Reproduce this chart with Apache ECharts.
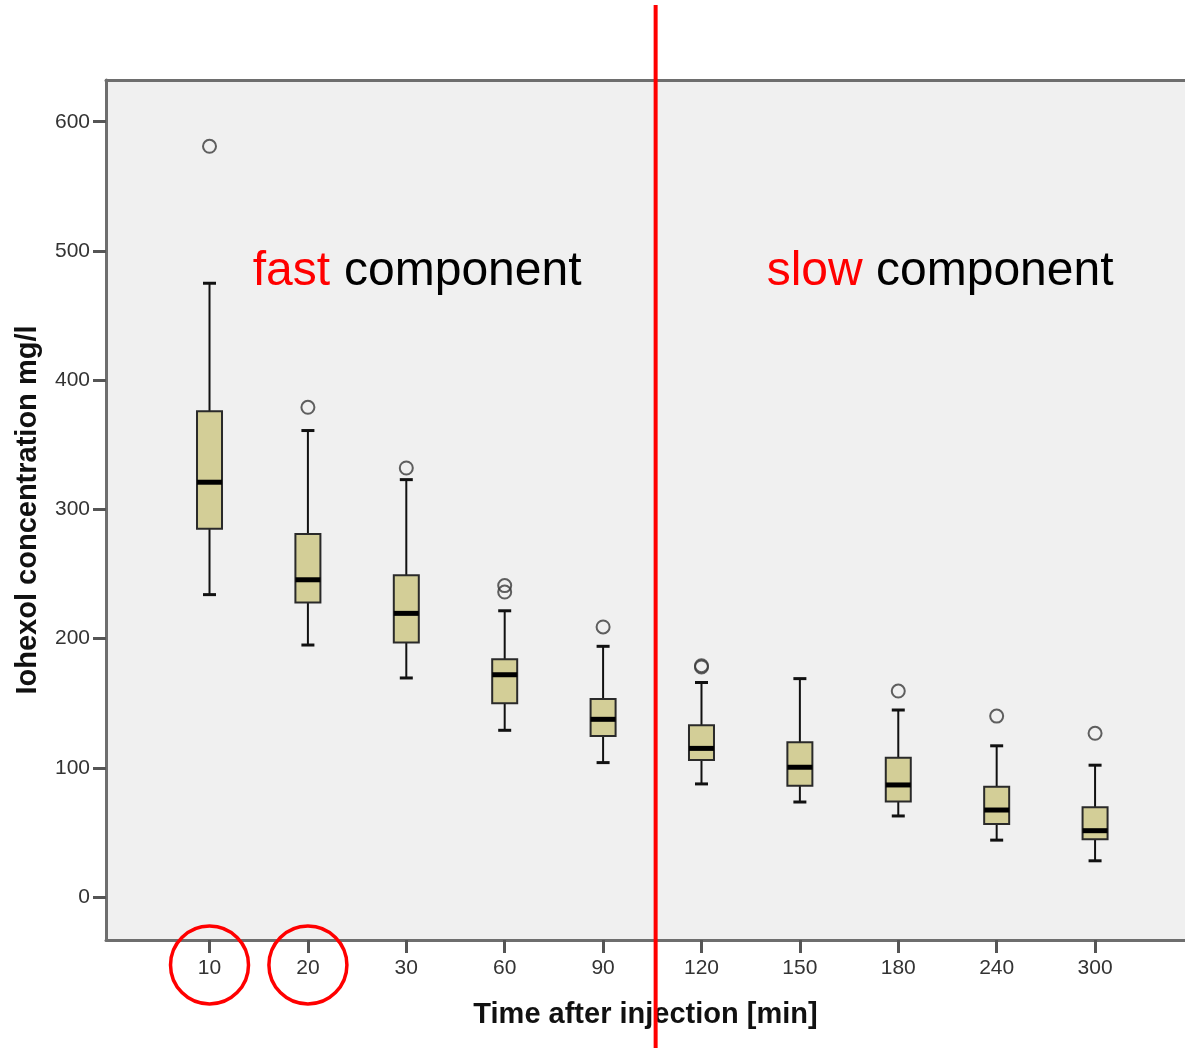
<!DOCTYPE html>
<html>
<head>
<meta charset="utf-8">
<script src="https://cdn.jsdelivr.net/npm/echarts@6/dist/echarts.min.js"></script>
<style>
  html, body { margin: 0; padding: 0; background: #fff; }
  #chart { width: 1185px; height: 1048px; }
</style>
</head>
<body>
<div id="chart"></div>
<script>
// time points (min) and box statistics (mg/l)
var times = ['10', '20', '30', '60', '90', '120', '150', '180', '240', '300'];
var whiskerLow  = [234, 195, 169.5, 129, 104, 87.5, 73.5, 62.7, 44, 28];
var q1          = [285, 228, 197, 150, 124.6, 106, 86, 73.8, 56.5, 44.7];
var median      = [321, 245.5, 219.5, 172, 137.5, 115, 100.4, 86.7, 67.3, 51.3];
var q3          = [376, 281, 249, 184, 153.3, 133, 119.7, 107.8, 85.4, 69.4];
var whiskerHigh = [475, 361, 323, 221.5, 194, 166, 169, 144.7, 117, 102];

// outliers: index of the time point + value
var outlierIndex = [0, 1, 2, 3, 3, 4, 5, 5, 7, 8, 9];
var outlierValue = [581, 379, 332, 241, 236, 209, 179, 178, 159.4, 140, 126.7];

var yTicks = [0, 100, 200, 300, 400, 500, 600];
var xTicks = [0, 1, 2, 3, 4, 5, 6, 7, 8, 9];
var splitAt = 4.534;          // fast / slow boundary, between 90 and 120
var circled = ['10', '20'];

var FONT = '"Liberation Sans", Arial, sans-serif';
var FRAME = { show: true, onZero: false, lineStyle: { color: '#6e6e6e', width: 3 } };

var boxData = times.map(function (t, i) {
  return [i, whiskerLow[i], q1[i], median[i], q3[i], whiskerHigh[i]];
});
var outlierData = outlierIndex.map(function (idx, i) {
  return [idx, outlierValue[i]];
});

function renderBox(params, api) {
  var x = api.value(0);
  var lo = api.coord([x, api.value(1)]);
  var b1 = api.coord([x, api.value(2)]);
  var md = api.coord([x, api.value(3)]);
  var b3 = api.coord([x, api.value(4)]);
  var hi = api.coord([x, api.value(5)]);
  var cx = lo[0];
  var half = 12.5, cap = 6.5;
  var stroke = '#111';
  return {
    type: 'group',
    children: [
      { type: 'line', shape: { x1: cx, y1: lo[1], x2: cx, y2: b1[1] }, style: { stroke: stroke, lineWidth: 2 } },
      { type: 'line', shape: { x1: cx, y1: b3[1], x2: cx, y2: hi[1] }, style: { stroke: stroke, lineWidth: 2 } },
      { type: 'line', shape: { x1: cx - cap, y1: lo[1], x2: cx + cap, y2: lo[1] }, style: { stroke: stroke, lineWidth: 3 } },
      { type: 'line', shape: { x1: cx - cap, y1: hi[1], x2: cx + cap, y2: hi[1] }, style: { stroke: stroke, lineWidth: 3 } },
      { type: 'rect', shape: { x: cx - half, y: b3[1], width: half * 2, height: b1[1] - b3[1] },
        style: { fill: '#d3ce97', stroke: '#2a2a2a', lineWidth: 2 } },
      { type: 'line', shape: { x1: cx - half, y1: md[1], x2: cx + half, y2: md[1] }, style: { stroke: '#000', lineWidth: 5 } }
    ]
  };
}

var chart = echarts.init(document.getElementById('chart'));

chart.setOption({
  animation: false,
  backgroundColor: '#ffffff',
  grid: {
    left: 106, right: 0, top: 80, bottom: 108,
    show: true,
    backgroundColor: '#f0f0f0',
    borderWidth: 0
  },
  xAxis: [{
    type: 'value',
    min: -1.052,
    max: 9.914,
    splitLine: { show: false },
    axisLine: FRAME,
    axisTick: { show: true, length: 13, customValues: xTicks, lineStyle: { color: '#555', width: 3 } },
    axisLabel: {
      customValues: xTicks,
      margin: 18,
      color: '#333',
      fontSize: 21,
      fontFamily: FONT,
      formatter: function (v) { return times[Math.round(v)]; }
    },
    name: 'Time after injection [min]',
    nameLocation: 'middle',
    nameGap: 60,
    nameTextStyle: { fontSize: 29, fontWeight: 'bold', color: '#111', fontFamily: FONT }
  }, {
    // top edge of the frame only
    type: 'value',
    position: 'top',
    min: -1.052,
    max: 9.914,
    splitLine: { show: false },
    axisLine: FRAME,
    axisTick: { show: false },
    axisLabel: { show: false }
  }],
  yAxis: {
    type: 'value',
    min: -33.3,
    max: 632.3,
    splitLine: { show: false },
    axisLine: FRAME,
    axisTick: { show: true, length: 13, customValues: yTicks, lineStyle: { color: '#555', width: 3 } },
    axisLabel: {
      customValues: yTicks,
      margin: 16,
      color: '#333',
      fontSize: 21,
      fontFamily: FONT
    },
    name: 'Iohexol concentration mg/l',
    nameLocation: 'middle',
    nameGap: 64,
    nameTextStyle: { fontSize: 29, fontWeight: 'bold', color: '#111', fontFamily: FONT }
  },
  series: [
    {
      type: 'custom',
      renderItem: renderBox,
      data: boxData,
      encode: { x: 0, y: [1, 2, 3, 4, 5] },
      z: 3
    },
    {
      type: 'scatter',
      data: outlierData,
      symbol: 'circle',
      symbolSize: 13,
      itemStyle: { color: 'rgba(0,0,0,0)', borderColor: '#3a3a3a', borderWidth: 2 },
      z: 4
    }
  ]
});

// annotations placed from the axis scale
var splitX = chart.convertToPixel({ xAxisIndex: 0 }, splitAt);
var graphics = [
  {
    type: 'line',
    shape: { x1: splitX, y1: 5, x2: splitX, y2: 1048 },
    style: { stroke: '#ff0000', lineWidth: 4 },
    z: 100
  },
  {
    type: 'text', x: 252.7, y: 272,
    style: { text: 'fast', fill: '#ff0000', font: '48px ' + FONT, verticalAlign: 'middle' }, z: 50
  },
  {
    type: 'text', x: 344, y: 272,
    style: { text: 'component', fill: '#000', font: '48px ' + FONT, verticalAlign: 'middle' }, z: 50
  },
  {
    type: 'text', x: 766.7, y: 272,
    style: { text: 'slow', fill: '#ff0000', font: '48px ' + FONT, verticalAlign: 'middle' }, z: 50
  },
  {
    type: 'text', x: 876, y: 272,
    style: { text: 'component', fill: '#000', font: '48px ' + FONT, verticalAlign: 'middle' }, z: 50
  }
];
circled.forEach(function (label) {
  var cx = chart.convertToPixel({ xAxisIndex: 0 }, times.indexOf(label));
  graphics.push({
    type: 'circle',
    shape: { cx: cx, cy: 965, r: 39 },
    style: { fill: 'none', stroke: '#ff0000', lineWidth: 3.5 },
    z: 100
  });
});
chart.setOption({ graphic: graphics });
</script>
</body>
</html>
